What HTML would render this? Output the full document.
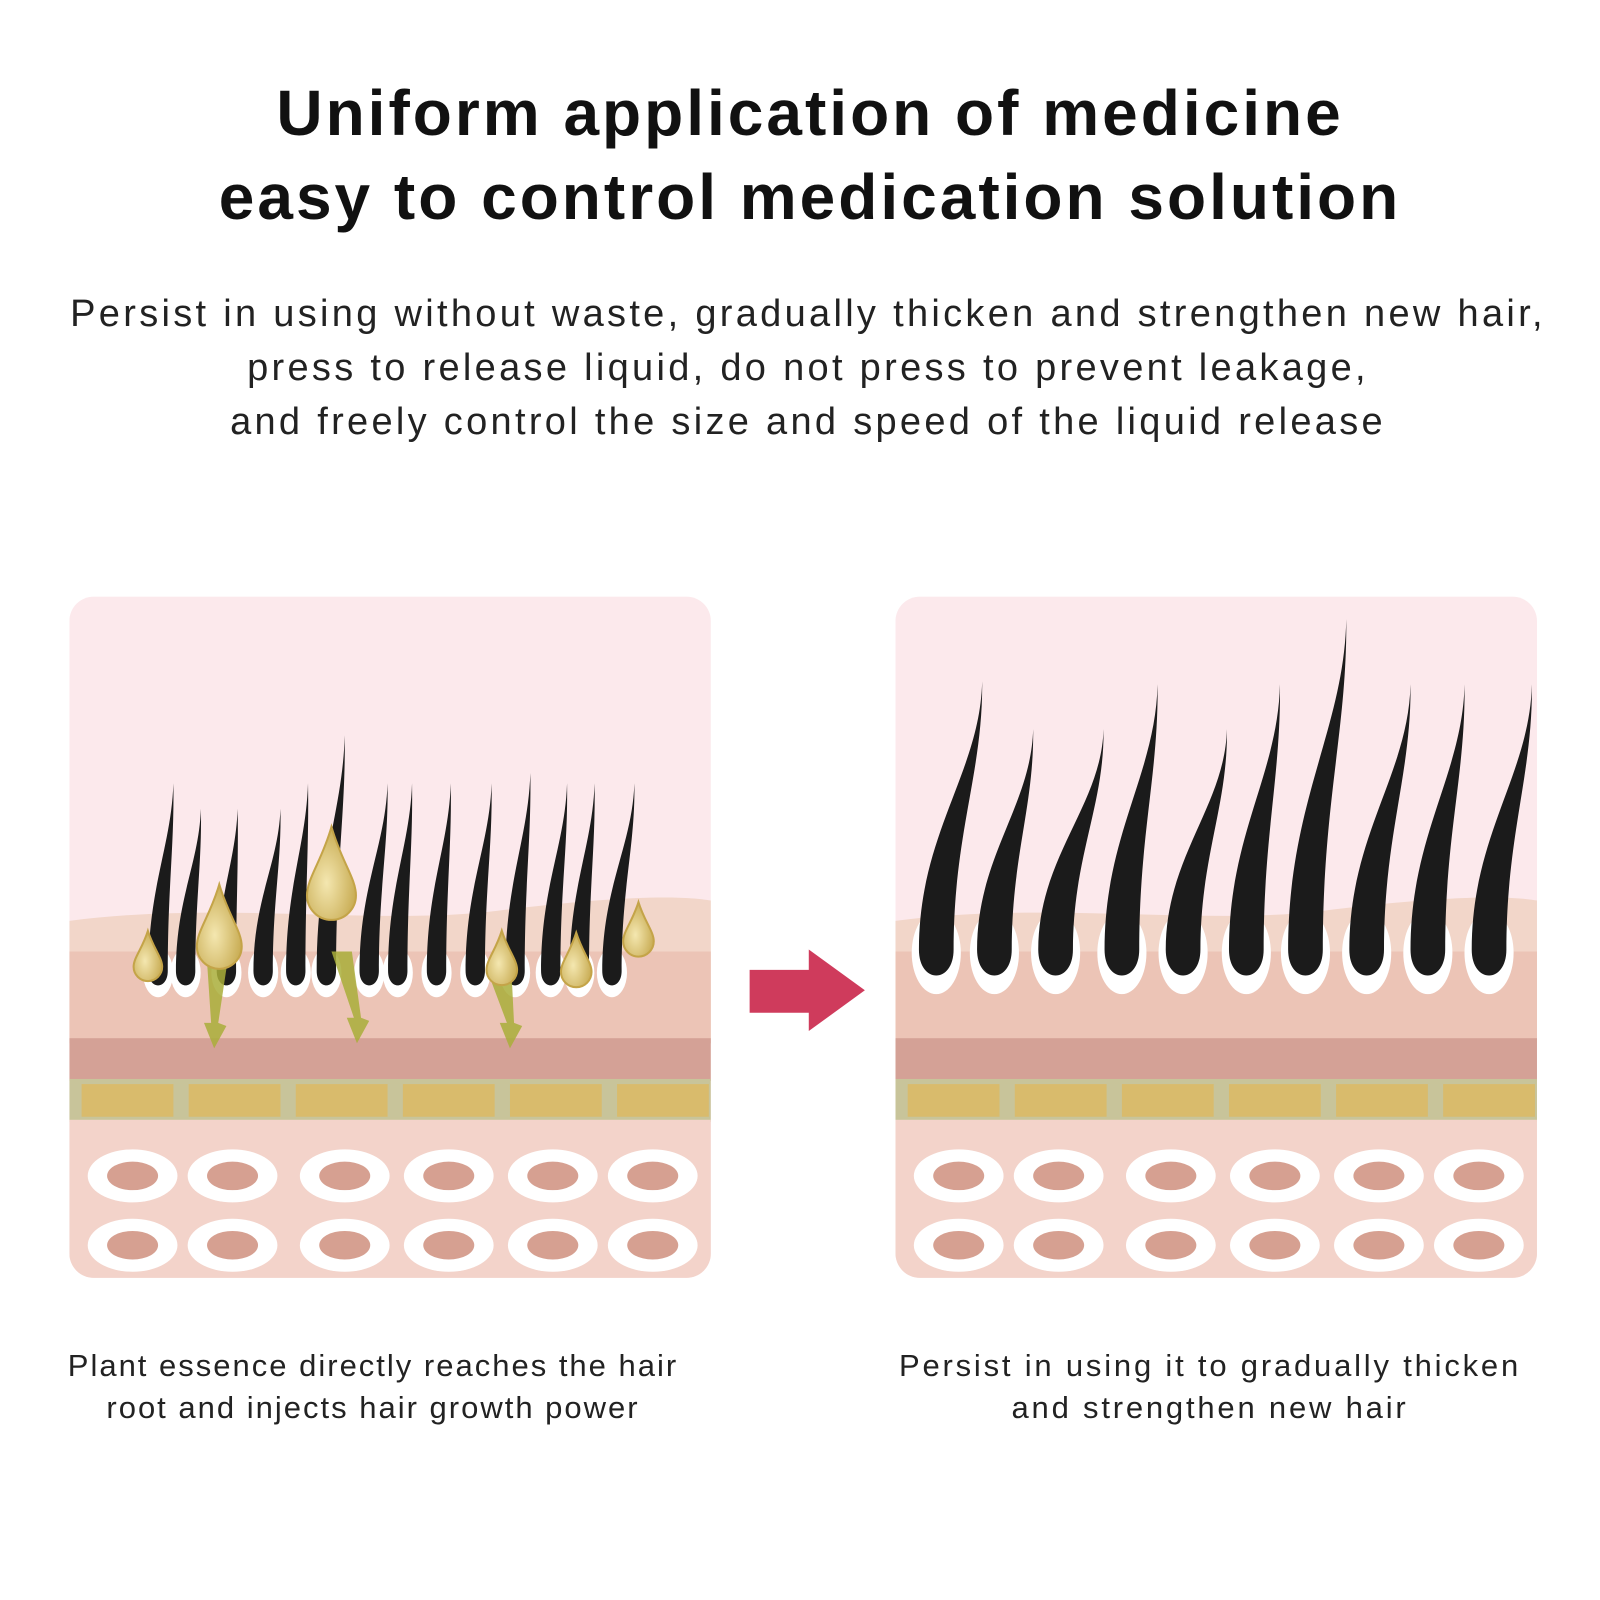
<!DOCTYPE html>
<html><head><meta charset="utf-8"><style>
html,body{margin:0;padding:0;background:#fff;width:1600px;height:1600px;overflow:hidden;font-family:"Liberation Sans",sans-serif;}
.t{position:absolute;left:0;width:1600px;text-align:center;color:#111;white-space:nowrap}
</style></head><body>
<div class="t" style="top:71px;font-size:64px;font-weight:bold;line-height:84px;letter-spacing:3px;left:10px">Uniform application of medicine<br>easy to control medication solution</div>
<div class="t" style="top:287px;font-size:38px;line-height:54px;letter-spacing:3.3px;color:#222;left:8px">Persist in using without waste, gradually thicken and strengthen new hair,<br>press to release liquid, do not press to prevent leakage,<br>and freely control the size and speed of the liquid release</div>
<div class="t" style="top:1345px;font-size:31px;line-height:42px;letter-spacing:2px;color:#222;left:-427px">Plant essence directly reaches the hair<br>root and injects hair growth power</div>
<div class="t" style="top:1345px;font-size:31px;line-height:42px;letter-spacing:2.8px;color:#222;left:410px">Persist in using it to gradually thicken<br>and strengthen new hair</div>
<svg width="1600" height="1600" style="position:absolute;left:0;top:0" xmlns="http://www.w3.org/2000/svg">
<defs>
<clipPath id="c1"><rect x="68" y="582" width="629" height="668" rx="24"/></clipPath>
<clipPath id="c2"><rect x="878" y="582" width="629" height="668" rx="24"/></clipPath>
<radialGradient id="gd" cx="0.4" cy="0.6" r="0.6"><stop offset="0" stop-color="#f4e7b0"/><stop offset="1" stop-color="#c9ad55"/></radialGradient>
</defs>
<g id="s" transform="translate(0,3) scale(1.0199)">
<polygon points="735,948 793,948 793,928 848,968 793,1008 793,990 735,990" fill="#cf3b5c"/>
</g>
</svg>
<script>
var s=document.getElementById('s'),NS='http://www.w3.org/2000/svg';
function el(p,t,a){var e=document.createElementNS(NS,t);for(var k in a)e.setAttribute(k,a[k]);p.appendChild(e);return e;}
function panel(x0,cid){
 var g=el(s,'g',{'clip-path':'url(#'+cid+')'});
 el(g,'rect',{x:x0,y:582,width:629,height:668,fill:'#fce9ec'});
 el(g,'path',{d:'M'+x0+',900 C'+(x0+150)+',880 '+(x0+300)+',905 '+(x0+420)+',890 S'+(x0+600)+',875 '+(x0+629)+',880 L'+(x0+629)+',1020 L'+x0+',1020Z',fill:'#f2d6c9'});
 el(g,'rect',{x:x0,y:930,width:629,height:90,fill:'#ecc4b6'});
 el(g,'rect',{x:x0,y:1015,width:629,height:42,fill:'#d4a196'});
 el(g,'rect',{x:x0,y:1055,width:629,height:42,fill:'#c8c49a'});
 for(var i=0;i<6;i++)el(g,'rect',{x:x0+12+i*105,y:1060,width:90,height:32,fill:'#d9bb6c'});
 el(g,'rect',{x:x0,y:1095,width:629,height:160,fill:'#f3d3ca'});
 var cx=[62,160,270,372,474,572];
 [1150,1218].forEach(function(cy){cx.forEach(function(c){
  el(g,'ellipse',{cx:x0+c,cy:cy,rx:44,ry:26,fill:'#fff'});
  el(g,'ellipse',{cx:x0+c,cy:cy,rx:25,ry:14,fill:'#d6a091'});});});
 return g;
}
function hair(g,bx,by,tx,ty,w){
 var h=by-ty;
 el(g,'ellipse',{cx:bx,cy:by-w*0.9,rx:w*0.62+3,ry:w*1.1+3,fill:'#fff'});
 var d='M'+(bx-w/2)+','+(by-w)+' C'+(bx-w/2)+','+(by-h*0.5)+' '+(tx-2)+','+(ty+h*0.3)+' '+tx+','+ty+
 ' C'+(tx+1)+','+(ty+h*0.3)+' '+(bx+w/2)+','+(by-h*0.5)+' '+(bx+w/2)+','+(by-w)+
 ' C'+(bx+w/2)+','+(by)+' '+(bx-w/2)+','+(by)+' '+(bx-w/2)+','+(by-w)+'Z';
 el(g,'path',{d:d,fill:'#1b1b1b'});
}
var g1=panel(68,'c1');
[[155,170,765],[182,197,790],[222,233,790],[258,275,790],[290,302,765],[320,338,718],[362,380,765],[390,404,765],[428,442,765],[466,482,765],[505,520,755],[540,556,765],[568,583,765],[600,622,765]].forEach(function(h){hair(g1,h[0],968,h[1],h[2],19);});
[[213,940,210,1025],[335,930,350,1020],[492,960,500,1025]].forEach(function(a){
 el(g1,'path',{d:'M'+(a[0]-10)+','+a[1]+' L'+(a[0]+10)+','+a[1]+' L'+(a[2]+4)+','+(a[3]-25)+' L'+(a[2]+12)+','+(a[3]-22)+' L'+a[2]+','+a[3]+' L'+(a[2]-10)+','+(a[3]-25)+' L'+(a[2]-3)+','+(a[3]-25)+'Z',fill:'#a9ae3a',opacity:0.85});});
[[145,945,14,22],[215,925,22,38],[325,875,24,42],[492,948,15,24],[565,950,15,24],[626,920,15,24]].forEach(function(d){
 var x=d[0],y=d[1],r=d[2],h=d[3];
 el(g1,'path',{d:'M'+x+','+(y-h*1.6)+' C'+(x+r*0.4)+','+(y-h*0.8)+' '+(x+r)+','+(y-h*0.4)+' '+(x+r)+','+y+' A'+r+','+r+' 0 0 1 '+(x-r)+','+y+' C'+(x-r)+','+(y-h*0.4)+' '+(x-r*0.4)+','+(y-h*0.8)+' '+x+','+(y-h*1.6)+'Z',fill:'url(#gd)',stroke:'#c4a448','stroke-width':2});});
var g2=panel(878,'c2');
[[918,963,665],[975,1013,712],[1035,1082,712],[1100,1135,668],[1160,1203,712],[1222,1255,668],[1280,1320,604],[1340,1383,668],[1400,1436,668],[1460,1502,668]].forEach(function(h){hair(g2,h[0],962,h[1],h[2],34);});
</script>
</body></html>
